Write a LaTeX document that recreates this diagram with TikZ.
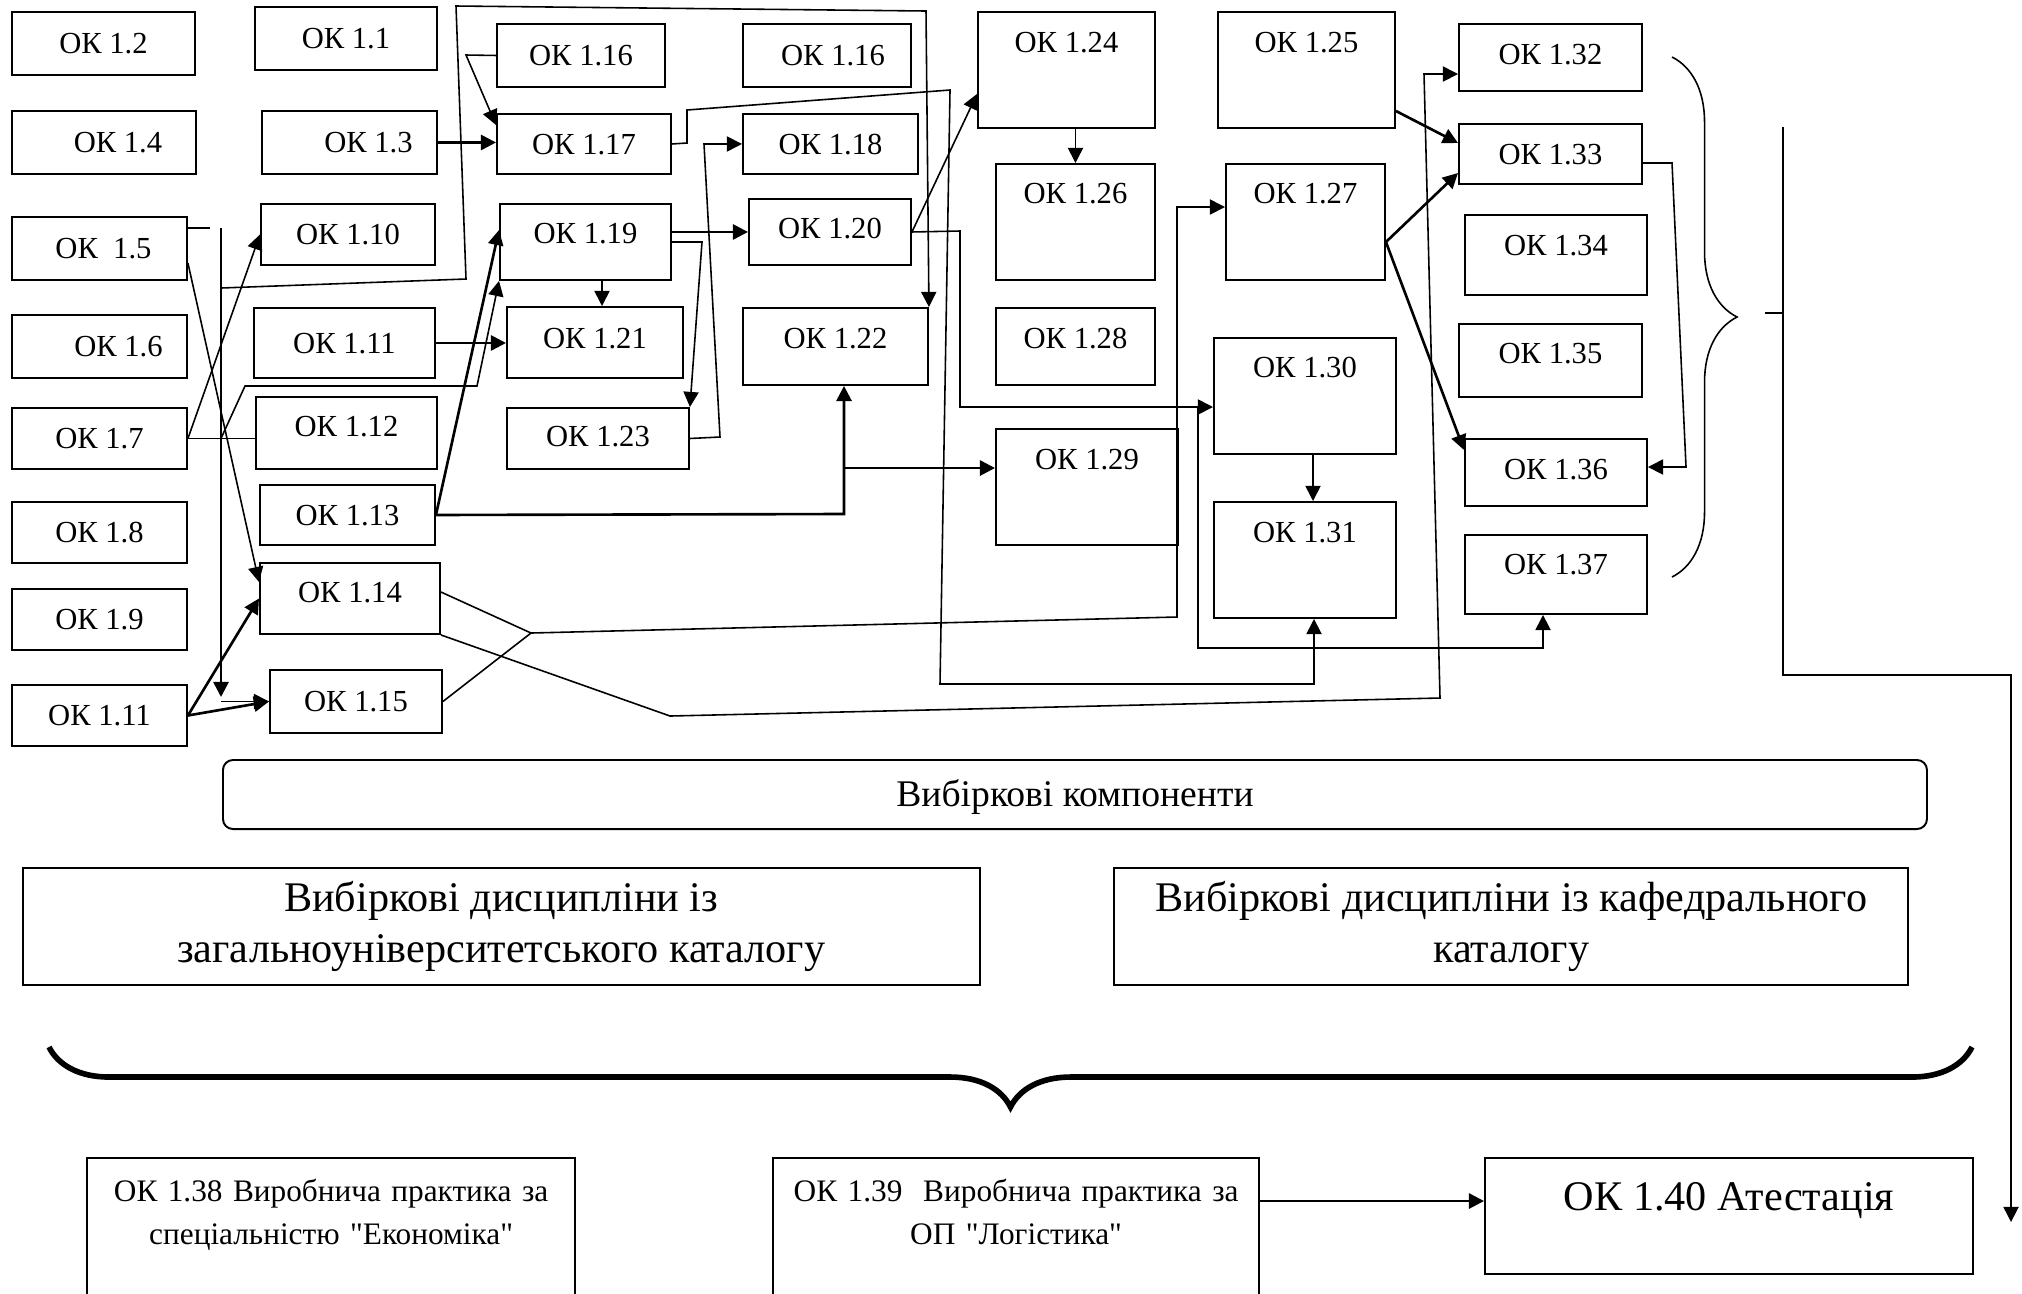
\documentclass[tikz,border=0pt]{standalone}
\usepackage{fontspec}
\setmainfont{Liberation Serif}
\newfontfamily\qfont{Liberation Serif}
\usetikzlibrary{arrows.meta,decorations.pathreplacing}

\begin{document}
\begin{tikzpicture}[x=0.01cm,y=-0.01cm]
\tikzstyle{ok}=[draw,line width=0.55pt,anchor=north west,inner sep=0pt,font=\fontsize{8.7}{10}\selectfont,text height=5.9pt,text depth=0pt]
\tikzstyle{wide}=[draw,line width=0.55pt,anchor=north west,inner sep=0pt,align=center]
\tikzstyle{link}=[line width=0.45pt]
\tikzstyle{tlink}=[line width=0.75pt]
\tikzstyle{arr}=[-{Triangle[length=4.3pt,width=4.3pt]}]

% fix the page
\useasboundingbox (0,0) rectangle (2022,1293);

% boxes, column by column: name/label/x/y/width/height/text depth
\foreach \n/\t/\xa/\ya/\w/\h/\d in {k2/ОК 1.2/11/11/183/63/0pt,
    k4/\hspace*{0.28cm}ОК 1.4/11/110/184/63/0pt, k5/\hspace*{0.08cm}ОК~~1.5/11/216/175/63/0pt,
    k6/\hspace*{0.38cm}ОК 1.6/11/314/175/63/0pt, k7/ОК 1.7/11/407/175/61/0pt,
    k8/ОК 1.8/11/501/175/61/0pt, k9/ОК 1.9/11/588/175/61/0pt, k11b/ОК 1.11/11/684/175/61/0pt}
  \node[ok,minimum width=\w*0.01cm,minimum height=\h*0.01cm,text depth=\d] (\n) at (\xa,\ya) {\t};
\foreach \n/\t/\xa/\ya/\w/\h/\d in {k1/ОК 1.1/254/6/182/63/0pt,
    k3/\hspace*{0.38cm}ОК 1.3/261/110/175/63/0pt, k10/ОК 1.10/260/203/174/61/0pt,
    k11/ОК 1.11/253/307/181/70/0pt, k12/ОК 1.12/255/396/181/72/0.13cm,
    k13/ОК 1.13/259/484/175/60/0pt, k14/ОК 1.14/259/562/180/71/0.13cm, k15/ОК 1.15/269/669/172/63/0pt}
  \node[ok,minimum width=\w*0.01cm,minimum height=\h*0.01cm,text depth=\d] (\n) at (\xa,\ya) {\t};
\foreach \n/\t/\xa/\ya/\w/\h/\d in {k16/ОК 1.16/496/23/168/63/0pt, k17/ОК 1.17/496/113/174/60/0pt,
    k19/ОК 1.19/499/203/171/76/0.18cm, k21/ОК 1.21/506/306/176/71/0.08cm, k23/ОК 1.23/506/407/182/61/0.04cm,
    k16b/\hspace*{0.12cm}ОК 1.16/742/23/168/63/0pt, k18/ОК 1.18/742/113/175/60/0pt,
    k20/ОК 1.20/748/198/162/66/0.08cm, k22/ОК 1.22/742/307/185/77/0.17cm}
  \node[ok,minimum width=\w*0.01cm,minimum height=\h*0.01cm,text depth=\d] (\n) at (\xa,\ya) {\t};
\foreach \n/\t/\xa/\ya/\w/\h/\d in {k24/ОК 1.24/977/11/177/116/0.56cm, k26/ОК 1.26/995/163/159/116/0.58cm,
    k28/ОК 1.28/995/307/159/77/0.17cm, k29/ОК 1.29/995/428/182/116/0.56cm,
    k25/ОК 1.25/1217/11/177/116/0.56cm, k27/ОК 1.27/1225/163/159/116/0.58cm,
    k30/ОК 1.30/1213/337/182/116/0.58cm, k31/ОК 1.31/1213/501/182/116/0.56cm}
  \node[ok,minimum width=\w*0.01cm,minimum height=\h*0.01cm,text depth=\d] (\n) at (\xa,\ya) {\t};
\foreach \n/\t/\xa/\ya/\w/\h/\d in {k32/ОК 1.32/1458/23/183/67/0.07cm, k33/ОК 1.33/1458/123/183/60/0pt,
    k34/ОК 1.34/1464/214/182/80/0.2cm, k35/ОК 1.35/1458/323/183/73/0.15cm,
    k36/ОК 1.36/1464/438/182/67/0.07cm, k37/ОК 1.37/1464/534/182/79/0.2cm}
  \node[ok,minimum width=\w*0.01cm,minimum height=\h*0.01cm,text depth=\d] (\n) at (\xa,\ya) {\t};

% elective part
\node[wide,rounded corners=0.1cm,minimum width=17.03cm,minimum height=0.69cm,font=\fontsize{10.7}{12}\selectfont,text height=7.1pt,text depth=0pt] (vk) at (222,759) {Вибіркові компоненти};
\node[wide,minimum width=9.56cm,minimum height=1.17cm,font=\fontsize{12}{14.5}\selectfont] (vz) at (22,867) {Вибіркові дисципліни із\\загальноуніверситетського каталогу};
\node[wide,minimum width=7.94cm,minimum height=1.17cm,font=\fontsize{12}{14.5}\selectfont] (vkaf) at (1113,867) {Вибіркові дисципліни із кафедрального\\каталогу};

% practice and attestation
\node[wide,minimum width=4.88cm,minimum height=1.6cm,text width=4.8cm,font=\fontsize{8.9}{12.2}\selectfont,text height=7pt,text depth=0.97cm] (k38) at (86,1157) {ОК 1.38 Виробнича практика за\\спеціальністю {\qfont"}Економіка{\qfont"}};
\node[wide,minimum width=4.86cm,minimum height=1.6cm,text width=4.8cm,font=\fontsize{8.9}{12.2}\selectfont,text height=7pt,text depth=0.97cm] (k39) at (772,1157) {ОК 1.39\ \ Виробнича практика за\\ОП {\qfont"}Логістика{\qfont"}};
\node[wide,minimum width=4.88cm,minimum height=1.16cm,font=\fontsize{12}{14}\selectfont,text height=8pt,text depth=0.4cm] (k40) at (1484,1157) {ОК 1.40 Атестація};

% links on the left
\draw[link] (k5.east|-0,228) -- (210,228);
\coordinate (v5) at (221,228);
\draw[tlink,arr] (v5) -- (v5|-0,697);
\draw[link,arr] (v5|-k15.west) -- (k15.west);
\draw[link,arr] (v5|-0,288) -- (466,279) -- (456,6) -- (926,11) -- (k22.north east);
\draw[link,arr] (k7.east) -- (k10.west);
\draw[link] (k7.east) -- (k7.east-|k12.west);
\draw[link,arr] (v5|-k7.east) -- (245,386) -- (477,386) -- (k19.south west);
\draw[link,arr] (k5.east|-0,263) -- (k14.west|-0,582);
\draw[tlink,arr] (k11b.east) -- (k14.west);
\draw[tlink,arr] (k11b.east) -- (k15.west);
\draw[tlink,arr] (k3.east) -- (k3.east-|k17.west);
\draw[link,arr] (k16.west) -- (466,55) -- (k17.west|-0,125);
\draw[tlink,arr] (k11.east) -- (k11.east-|k21.west);
\draw[tlink,arr] (k13.east) -- (k19.west|-0,230);
\coordinate (j13) at (844,514);
\draw[tlink,arr] (k13.east) -- (j13) -- (j13|-k22.south);
\draw[tlink,arr] (j13|-0,468) -- (k29.west|-0,468);

% links in the middle
\draw[tlink,arr] (k19.east|-k20.west) -- (k20.west);
\draw[link,arr] (k19.east|-0,242) -- (702,242) -- (k23.north east);
\draw[link,arr] (k19.south-|602,0) -- (k21.north-|602,0);
\draw[link,arr] (k23.east) -- (720,437) -- (704,144) -- (k18.west);
\draw[link,arr] (k17.east) -- (687,143) -- (687,110) -- (950,90) -- (940,684) -- (1314,684) -- (k31.south-|1314,0);
\draw[link,arr] (k20.east) -- (k24.west|-0,94);
\draw[link,arr] (k20.east) -- (960,231) -- (960,407) -- (k30.west|-0,407);
\draw[link,arr] (1198,407) -- (1198,648) -- (1543,648) -- (k37.south-|1543,0);
\draw[link,arr] (k24.south-|k26.north) -- (k26.north);
\draw[link,arr] (k30.south-|1313,0) -- (k31.north-|1313,0);
\coordinate (j14) at (531,633);
\draw[link] (k14.east|-0,592) -- (j14) -- (k15.east);
\draw[link,arr] (j14) -- (1177,617) -- (1177,207) -- (k27.west|-0,207);
\draw[link,arr] (k14.south east) -- (670,716) -- (1440,698) -- (1424,74) -- (k32.west|-0,74);

% links on the right
\draw[tlink,arr] (k25.east|-0,111) -- (k33.west|-0,143);
\draw[tlink,arr] (k27.east|-0,242) -- (k33.west|-0,173);
\draw[tlink,arr] (k27.east|-0,242) -- (k36.west|-0,450);
\draw[link,arr] (k33.east|-0,163) -- (1672,163) -- (1686,467) -- (k36.east|-0,467);

% braces
\draw[link,decorate,decoration={brace,amplitude=0.65cm}] (1672,57) -- (1672,577);
\draw[link] (1765,313) -- (1783,313);
\coordinate (atest) at (2011,1222);
\draw[link,arr] (1783,127) -- (1783,675) -- (atest|-0,675) -- (atest);
\draw[line width=1.6pt,decorate,decoration={brace,mirror,amplitude=0.6cm}] (49,1047) -- (1972,1047);
\draw[tlink,arr] (k39.east|-0,1201) -- (k40.west|-0,1201);

\end{tikzpicture}
\end{document}
